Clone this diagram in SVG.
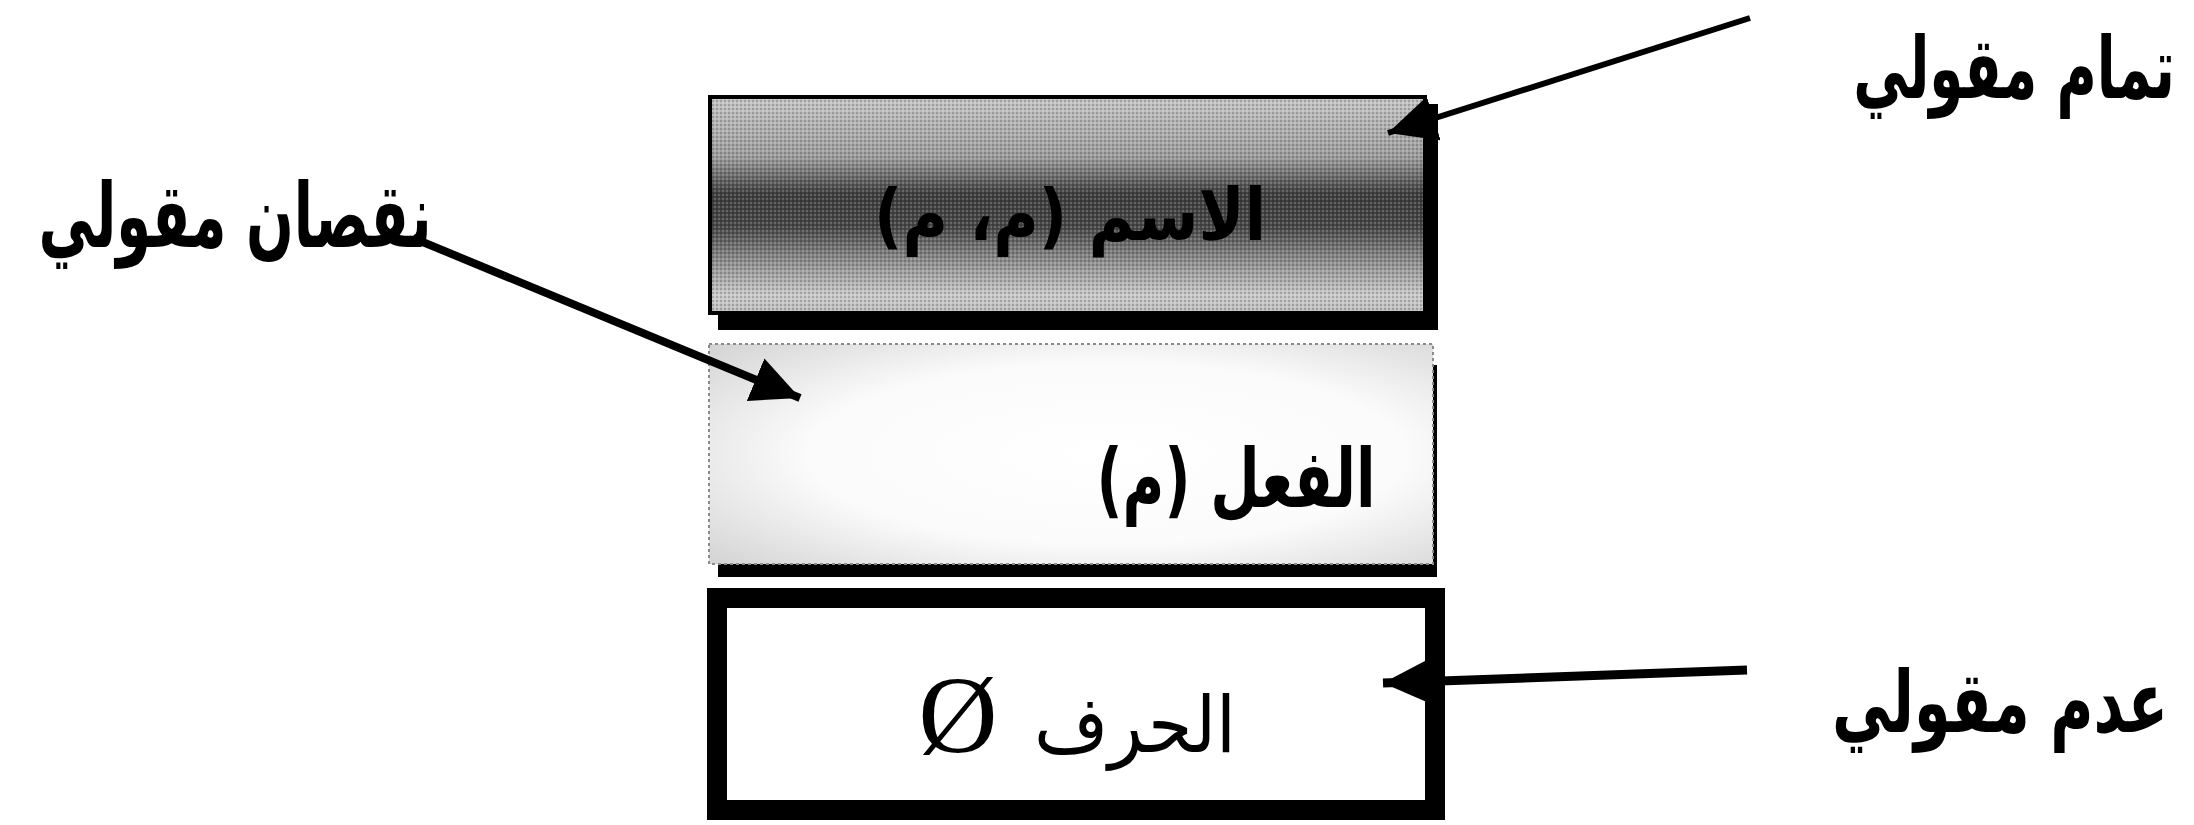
<svg xmlns="http://www.w3.org/2000/svg" width="2194" height="825" viewBox="0 0 2194 825">
  <style>
    .label { font-family: "DejaVu Sans", "Noto Sans", sans-serif; font-weight: bold; fill: #000; }
    .inner { font-family: "DejaVu Sans", "Noto Sans", sans-serif; fill: #000; }
    .sym { font-family: "Liberation Serif", "DejaVu Serif", serif; fill: #000; }
    .conn { stroke: #000; fill: none; stroke-linecap: butt; }
  </style>
  <defs>
    <!-- dark band across the middle of the top box -->
    <linearGradient id="topFill" x1="0" y1="0" x2="0" y2="1">
      <stop offset="0" stop-color="#c6c6c6"/>
      <stop offset="0.28" stop-color="#9c9c9c"/>
      <stop offset="0.45" stop-color="#3e3e3e"/>
      <stop offset="0.6" stop-color="#474747"/>
      <stop offset="0.76" stop-color="#8e8e8e"/>
      <stop offset="0.92" stop-color="#cacaca"/>
      <stop offset="1" stop-color="#bdbdbd"/>
    </linearGradient>
    <!-- pale wash that fades toward the centre of the middle box -->
    <radialGradient id="midFill" cx="0.55" cy="0.5" r="0.75">
      <stop offset="0" stop-color="#ffffff"/>
      <stop offset="0.55" stop-color="#fbfbfb"/>
      <stop offset="1" stop-color="#d2d2d2"/>
    </radialGradient>
    <!-- halftone grain -->
    <pattern id="grain" width="4" height="4" patternUnits="userSpaceOnUse">
      <rect x="0" y="0" width="2" height="2" fill="#000"/>
      <rect x="2" y="2" width="2" height="2" fill="#fff"/>
    </pattern>
    <marker id="head" viewBox="0 0 48 46" refX="48" refY="23" markerWidth="48" markerHeight="46" markerUnits="userSpaceOnUse" orient="auto">
      <path d="M0,0 L48,23 L0,46 Z" fill="#000"/>
    </marker>
  </defs>

  <!-- top box: noun -->
  <g id="node-noun">
    <rect x="718" y="104" width="720" height="226" fill="#000"/>
    <rect x="710" y="97" width="715" height="216" fill="url(#topFill)" stroke="#000" stroke-width="4"/>
    <rect x="712" y="99" width="711" height="212" fill="url(#grain)" opacity="0.18"/>
    <text class="inner" x="1070" y="240" font-size="72" font-weight="bold" fill="#222" text-anchor="middle" direction="rtl" textLength="392" lengthAdjust="spacingAndGlyphs">الاسم (م، م)</text>
  </g>

  <!-- middle box: verb -->
  <g id="node-verb">
    <rect x="718" y="562" width="719" height="15" fill="#000"/>
    <rect x="1432" y="365" width="5" height="212" fill="#000"/>
    <rect x="709" y="344" width="724" height="220" fill="url(#midFill)" stroke="#8a8a8a" stroke-width="2" stroke-dasharray="3 3"/>
    <text class="inner" x="1236" y="507" font-size="82" font-weight="bold" text-anchor="middle" direction="rtl" textLength="279" lengthAdjust="spacingAndGlyphs">الفعل (م)</text>
  </g>

  <!-- bottom box: particle -->
  <g id="node-particle">
    <rect x="717" y="598" width="718" height="212" fill="#fff" stroke="#000" stroke-width="20"/>
    <text class="inner" x="1135" y="752" font-size="78" text-anchor="middle" direction="rtl" textLength="202" lengthAdjust="spacingAndGlyphs">الحرف</text>
    <text class="sym" x="958" y="752" font-size="110" text-anchor="middle">Ø</text>
  </g>

  <!-- side labels (narrowed horizontally to the naskh proportions) -->
  <g id="label-full">
    <text class="label" transform="translate(2014,98) scale(0.65,1)" x="0" y="0" font-size="86" text-anchor="middle" direction="rtl" textLength="495" lengthAdjust="spacingAndGlyphs">تمام مقولي</text>
  </g>
  <g id="label-partial">
    <text class="label" x="235" y="247" font-size="90" text-anchor="middle" direction="rtl" textLength="393" lengthAdjust="spacingAndGlyphs">نقصان مقولي</text>
  </g>
  <g id="label-none">
    <text class="label" transform="translate(2000,732) scale(0.694,1)" x="0" y="0" font-size="86" text-anchor="middle" direction="rtl" textLength="484" lengthAdjust="spacingAndGlyphs">عدم مقولي</text>
  </g>

  <!-- connectors -->
  <g id="connectors">
    <line class="conn" x1="1750" y1="18" x2="1388" y2="133" stroke-width="6" marker-end="url(#head)"/>
    <line class="conn" x1="413" y1="238" x2="800" y2="398" stroke-width="8" marker-end="url(#head)"/>
    <line class="conn" x1="1747" y1="670" x2="1383" y2="683" stroke-width="9" marker-end="url(#head)"/>
  </g>
</svg>
